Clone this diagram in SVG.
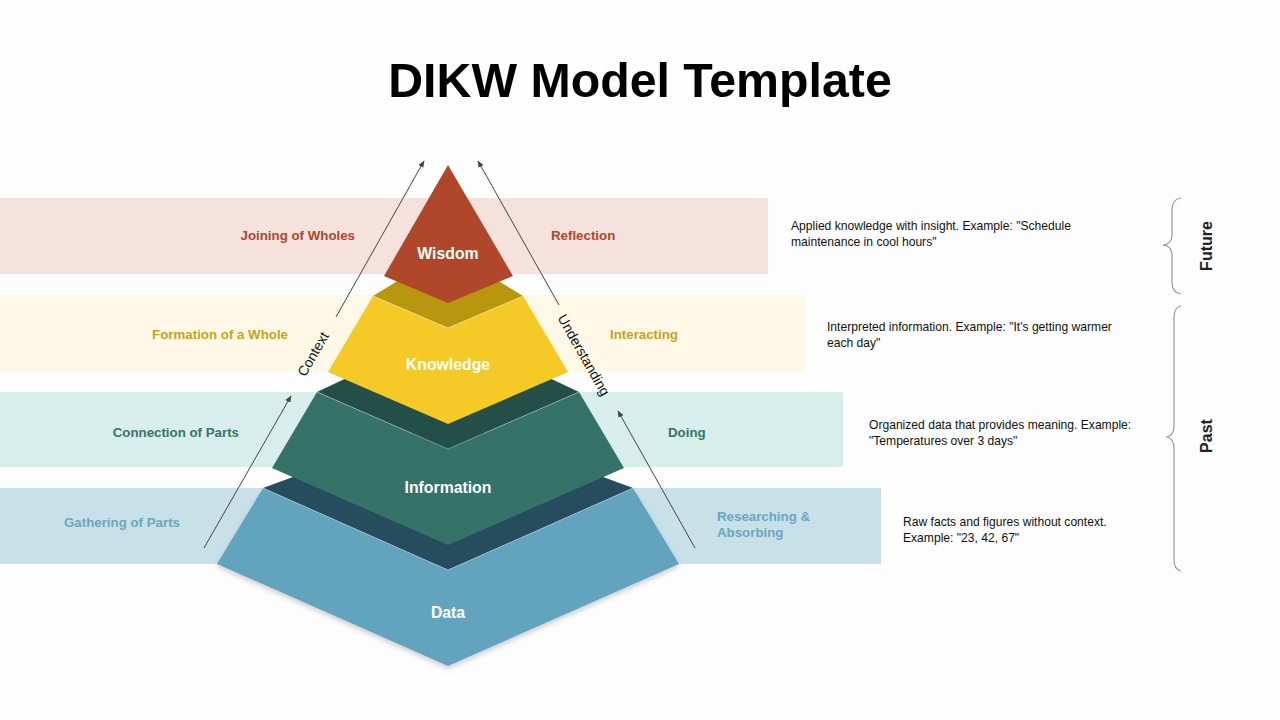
<svg xmlns="http://www.w3.org/2000/svg" width="1280" height="720" viewBox="0 0 1280 720">
<style>
.band-label{font-family:"Liberation Sans",Arial,sans-serif;font-weight:bold;font-size:13.3px}
.desc{font-family:"Liberation Sans",Arial,sans-serif;font-size:12.1px;fill:#111}
.layer{font-family:"Liberation Sans",Arial,sans-serif;font-weight:bold;font-size:15.8px;fill:#fff;text-anchor:middle}
.axis{font-family:"Liberation Sans",Arial,sans-serif;font-size:14px;fill:#111;text-anchor:middle}
.side{font-family:"Liberation Sans",Arial,sans-serif;font-weight:bold;font-size:16px;fill:#222;text-anchor:middle}
.arrow{stroke:#444;stroke-width:1;fill:none;marker-end:url(#ah)}
.brace{stroke:#999;stroke-width:1.2;fill:none}
.edge{stroke:#fff;stroke-opacity:0.35;stroke-width:1;fill:none}
</style>
<defs>
<marker id="ah" viewBox="0 0 10 10" refX="9" refY="5" markerWidth="7" markerHeight="7" orient="auto" markerUnits="userSpaceOnUse">
<path d="M0,1 L10,5 L0,9 z" fill="#444"/>
</marker>
<filter id="shadow" x="-10%" y="-10%" width="120%" height="130%">
<feDropShadow dx="0" dy="3" stdDeviation="2.5" flood-color="#000" flood-opacity="0.18"/>
</filter>
</defs>
<rect width="1280" height="720" fill="#FDFDFD"/>
<text x="640" y="97" font-family="Liberation Sans,Arial,sans-serif" font-weight="bold" font-size="48.3" text-anchor="middle" fill="#000">DIKW Model Template</text>

<g id="bands">
<rect x="0" y="198" width="768" height="76" fill="#F6E2DD"/>
<rect x="0" y="295" width="805" height="76" fill="#FFF8E7"/>
<rect x="0" y="392" width="843" height="75" fill="#D8EEEA"/>
<rect x="0" y="488" width="881" height="76" fill="#C8E0E8"/>
</g>

<g id="band-labels">
<text class="band-label" x="355" y="240" text-anchor="end" fill="#B0472A">Joining of Wholes</text>
<text class="band-label" x="551" y="240" fill="#B0472A">Reflection</text>
<text class="band-label" x="288" y="339" text-anchor="end" fill="#C8A21C">Formation of a Whole</text>
<text class="band-label" x="610" y="339" fill="#C8A21C">Interacting</text>
<text class="band-label" x="239" y="437" text-anchor="end" fill="#3A7469">Connection of Parts</text>
<text class="band-label" x="668" y="437" fill="#3A7469">Doing</text>
<text class="band-label" x="180" y="527" text-anchor="end" fill="#6BA7BF">Gathering of Parts</text>
<text class="band-label" x="717" y="521" fill="#6BA7BF">Researching &amp;</text>
<text class="band-label" x="717" y="537" fill="#6BA7BF">Absorbing</text>
</g>

<g id="node-data">
<polygon points="263,488 448,420 633,488 448,570" fill="#264D5D"/>
<polygon points="263,488 448,570 633,488 679,564 448,666 217,564" fill="#62A4BE" filter="url(#shadow)"/>
<polyline class="edge" points="263,488 448,570 633,488"/>
<text class="layer" x="448" y="618">Data</text>
</g>

<g id="node-information">
<polygon points="317,392 448,330 579,392 448,449" fill="#234F48"/>
<polygon points="317,392 448,449 579,392 624,468 448,545 272,468" fill="#357268"/>
<polyline class="edge" points="317,392 448,449 579,392"/>
<text class="layer" x="448" y="493">Information</text>
</g>

<g id="node-knowledge">
<polygon points="373,296 448,250 523,296 448,328" fill="#B8960D"/>
<polygon points="373,296 448,328 523,296 568,372 448,424 328,372" fill="#F5CA26"/>
<polyline class="edge" points="373,296 448,328 523,296"/>
<text class="layer" x="448" y="370">Knowledge</text>
</g>

<g id="node-wisdom">
<polygon points="448,165 513,276 448,303 384,276" fill="#B0472A"/>
<text class="layer" x="448" y="259">Wisdom</text>
</g>

<g id="connectors">
<line class="arrow" x1="336" y1="317" x2="424" y2="161"/>
<line class="arrow" x1="204" y1="548" x2="291" y2="396"/>
<line class="arrow" x1="559" y1="305" x2="478" y2="161"/>
<line class="arrow" x1="695" y1="548" x2="618" y2="411"/>
</g>

<g id="axis-labels">
<text class="axis" transform="translate(313,354) rotate(-60)" y="5">Context</text>
<text class="axis" transform="translate(584,355) rotate(60.5)" y="5">Understanding</text>
</g>

<g id="descriptions">
<text class="desc" x="791" y="230">Applied knowledge with insight. Example: "Schedule</text>
<text class="desc" x="791" y="246">maintenance in cool hours"</text>
<text class="desc" x="827" y="331">Interpreted information. Example: "It's getting warmer</text>
<text class="desc" x="827" y="347">each day"</text>
<text class="desc" x="869" y="429">Organized data that provides meaning. Example:</text>
<text class="desc" x="869" y="445">"Temperatures over 3 days"</text>
<text class="desc" x="903" y="526">Raw facts and figures without context.</text>
<text class="desc" x="903" y="542">Example: "23, 42, 67"</text>
</g>

<g id="braces">
<path class="brace" d="M1181,198 Q1172,199 1172,210 L1172,235 Q1172,244 1163,245 Q1172,246 1172,255 L1172,282 Q1172,293 1181,294"/>
<path class="brace" d="M1181,306 Q1174,307 1174,318 L1174,426 Q1174,435 1167,437 Q1174,439 1174,448 L1174,559 Q1174,570 1181,571"/>
<text class="side" transform="translate(1212,246) rotate(-90)">Future</text>
<text class="side" transform="translate(1212,436) rotate(-90)">Past</text>
</g>
</svg>
